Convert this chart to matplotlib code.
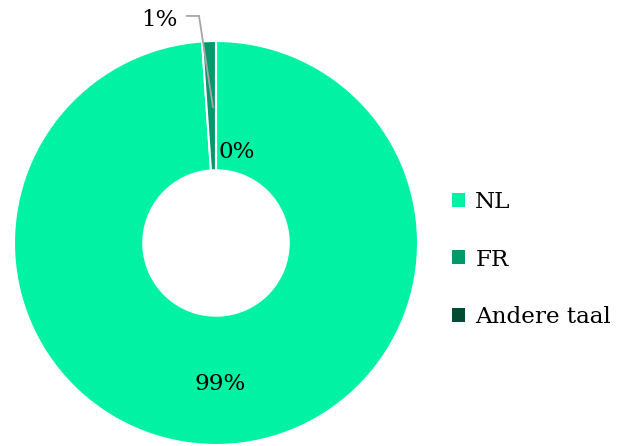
import matplotlib
matplotlib.use("Agg")
import matplotlib.pyplot as plt
from matplotlib.patches import Patch

categories = ["NL", "FR", "Andere taal"]
shares = [98.9, 1.1, 0.0]
labels = ["99%", "1%", "0%"]
colors = ["#00F2A2", "#00996A", "#004B32"]

plt.rcParams["font.family"] = ["DejaVu Serif"]
FS = 16.6

fig = plt.figure(figsize=(6.19, 4.46), dpi=100)
ax = fig.add_axes([14 / 619, 1 / 446, 404 / 619, 404 / 446])
wedges, _ = ax.pie(shares, colors=colors, startangle=90, counterclock=False,
                   radius=1.0, wedgeprops=dict(width=0.64, edgecolor="white", linewidth=1.5))
ax.set_xlim(-1, 1)
ax.set_ylim(-1, 1)
ax.set_aspect("equal")
ax.axis("off")

# data labels
ax.text(0.02, -0.70, labels[0], ha="center", va="center", fontsize=FS, color="#000000")
ax.text(0.10, 0.45, labels[2], ha="center", va="center", fontsize=FS, color="#000000")
ax.text(-0.28, 1.105, labels[1], ha="center", va="center", fontsize=FS, color="#000000",
        clip_on=False)
ax.plot([-0.144, -0.084, -0.015], [1.124, 1.124, 0.673], color="#A6A6A6", lw=1.3,
        clip_on=False, solid_joinstyle="miter")

handles = [Patch(facecolor=c, edgecolor="none", label=l) for c, l in zip(colors, categories)]
fig.legend(handles=handles, loc="center left", bbox_to_anchor=(443 / 619, 1 - 259.5 / 446),
           frameon=False, fontsize=FS, handlelength=0.55, handleheight=0.55,
           handletextpad=0.45, labelspacing=1.53, borderaxespad=0)

fig.savefig("out.png", dpi=100, facecolor="white")
